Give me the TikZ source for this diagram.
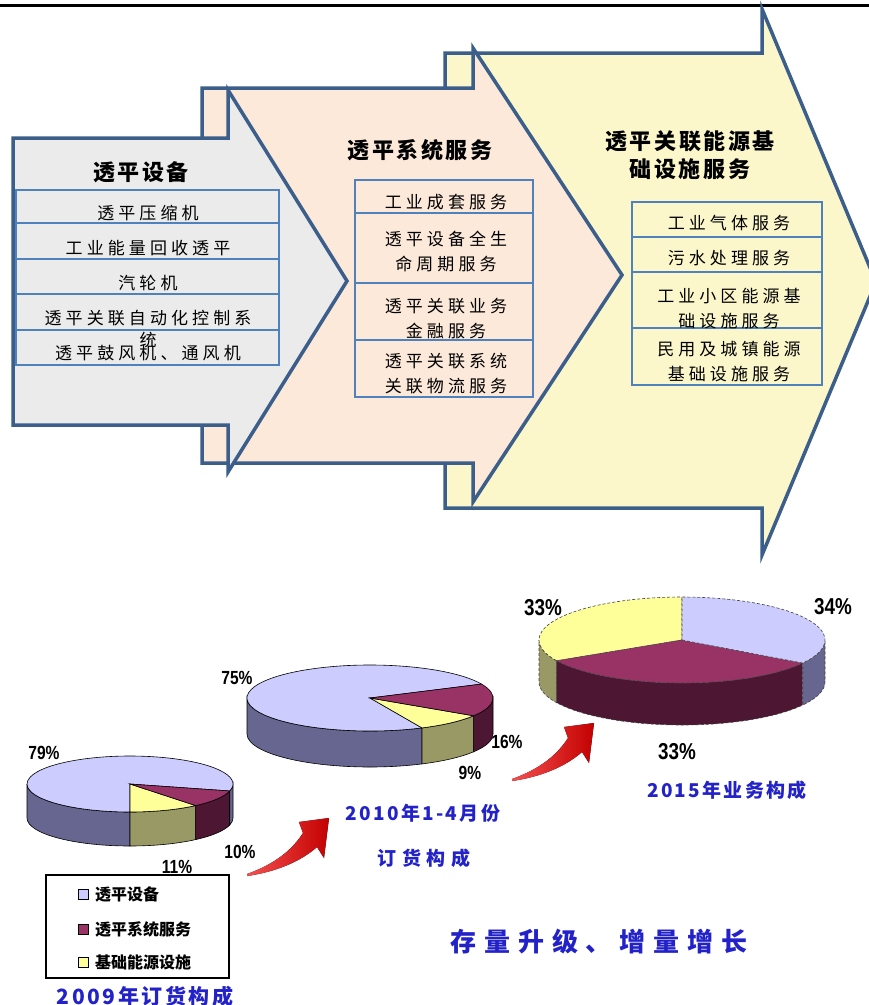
\documentclass[tikz,border=0pt]{standalone}
\usepackage{fontspec}
\newfontfamily\cjk{Noto Sans CJK SC}
\newfontfamily\cjkls[LetterSpace=30]{Noto Sans CJK SC}
\newfontfamily\cjkmd[LetterSpace=24]{Noto Sans CJK SC}
\newfontfamily\cjklt[LetterSpace=12]{Noto Sans CJK SC}
\newfontfamily\pctf[FakeStretch=0.82]{Liberation Sans}
\definecolor{bdr}{RGB}{59,94,138}
\definecolor{rowc}{RGB}{79,129,189}
\definecolor{grayf}{RGB}{235,235,235}
\definecolor{pinkf}{RGB}{252,233,218}
\definecolor{yelf}{RGB}{251,247,203}
\definecolor{pblue}{RGB}{204,204,255}
\definecolor{pblues}{RGB}{102,102,145}
\definecolor{pmar}{RGB}{153,51,102}
\definecolor{pmars}{RGB}{77,22,51}
\definecolor{pyel}{RGB}{255,255,153}
\definecolor{pyels}{RGB}{153,153,102}
\definecolor{capblue}{RGB}{34,34,200}
\definecolor{arrl}{RGB}{245,80,80}
\definecolor{arrd}{RGB}{195,0,0}
\newcommand\PieSide[3]{\filldraw[fill=#3] ({\prx*cos(#1)},{\pry*sin(#1)}) arc[start angle=#1,end angle=#2,x radius=\prx pt,y radius=\pry pt] -- ++(0,-\pdd) arc[start angle=#2,end angle=#1,x radius=\prx pt,y radius=\pry pt] -- cycle;}
\newcommand\PieTop[3]{\filldraw[fill=#3] (0,0) -- ({\prx*cos(#1)},{\pry*sin(#1)}) arc[start angle=#1,end angle=#2,x radius=\prx pt,y radius=\pry pt] -- cycle;}
\begin{document}
\begin{tikzpicture}[x=1pt,y=-1pt,
  arrowbox/.style={draw=bdr, line width=3.5pt, line join=miter},
  rowline/.style={draw=rowc, line width=1.6pt},
  cell/.style={font=\cjkmd\fontsize{17}{25}\selectfont, align=center, inner sep=0pt},
  ttl/.style={font=\cjklt\bfseries\fontsize{22}{28}\selectfont, align=center, inner sep=0pt},
  pct/.style={font=\pctf\bfseries\fontsize{19}{21}\selectfont, inner sep=0pt},
  bigpct/.style={font=\pctf\bfseries\fontsize{23}{25}\selectfont, inner sep=0pt},
  captxt/.style={font=\cjklt\bfseries\fontsize{19}{24}\selectfont, text=capblue, inner sep=0pt},
  capls/.style={font=\cjkls\bfseries\fontsize{19}{24}\selectfont, text=capblue, inner sep=0pt},
  capbig/.style={font=\cjklt\bfseries\fontsize{21}{24}\selectfont, text=capblue, inner sep=0pt},
  slogan/.style={font=\cjkls\bfseries\fontsize{26}{30}\selectfont, text=capblue, inner sep=0pt},
  leg/.style={font=\cjk\bfseries\fontsize{16}{18}\selectfont, anchor=west, inner sep=0pt},
  legsq/.style={draw=black, line width=0.8pt, minimum size=10pt, inner sep=0pt},
  pieline/.style={draw=black, line width=0.6pt},
  redarrow/.style={left color=arrl, right color=arrd, draw=none}]
\useasboundingbox (0,0) rectangle (869,1005);
\clip (0,0) rectangle (869,1005);
% top rule
\draw[line width=3pt] (0,5) -- (869,5);
% arrows (back to front)
\filldraw[arrowbox, fill=yelf] (445,53) -- (762,53) -- (762,9) -- (876,282) -- (762,555) -- (762,508) -- (445,508) -- cycle;
\filldraw[arrowbox, fill=pinkf] (202,88) -- (473,88) -- (473,48) -- (622,275) -- (473,502) -- (473,463) -- (202,463) -- cycle;
\filldraw[arrowbox, fill=grayf] (13,138) -- (228,138) -- (228,90) -- (347,281) -- (228,472) -- (228,425) -- (13,425) -- cycle;
% gray arrow content
\node[ttl] (t1) at (141,172) {透平设备};
\draw[rowline] (16,190) rectangle (279,365);
\foreach \yy in {223,259,294,330} \draw[rowline] (16,\yy) -- (279,\yy);
\node[cell] (g1) at (148,213) {透平压缩机};
\node[cell] (g2) at (148,248) {工业能量回收透平};
\node[cell] (g3) at (148,283) {汽轮机};
\node[cell] (g4) at (148,318) {透平关联自动化控制系};
\node[cell] (g4b) at (148,340) {统};
\node[cell] (g5) at (148,353) {透平鼓风机、通风机};
% pink arrow content
\node[ttl] (t2) at (420,150) {透平系统服务};
\draw[rowline] (355,180) rectangle (533,397);
\foreach \yy in {213,283,340} \draw[rowline] (355,\yy) -- (533,\yy);
\node[cell] (p1) at (446,202) {工业成套服务};
\node[cell] (p2) at (446,251) {透平设备全生\\命周期服务};
\node[cell] (p3) at (446,319) {透平关联业务\\金融服务};
\node[cell] (p4) at (446,374) {透平关联系统\\关联物流服务};
% yellow arrow content
\node[ttl] (t3) at (690,155) {透平关联能源基\\础设施服务};
\draw[rowline] (632,202) rectangle (822,385);
\foreach \yy in {237,272,328} \draw[rowline] (632,\yy) -- (822,\yy);
\node[cell] (y1) at (729,223) {工业气体服务};
\node[cell] (y2) at (729,258) {污水处理服务};
\node[cell] (y3) at (729,309) {工业小区能源基\\础设施服务};
\node[cell] (y4) at (729,362) {民用及城镇能源\\基础设施服务};
% pie 1 (2009)
\begin{scope}[shift={(130,784)}, y=1pt, pieline]
  \def\prx{103}\def\pry{28}\def\pdd{34}
  \PieSide{180}{270}{pblues}
  \PieSide{270}{309.6}{pyels}
  \PieSide{309.6}{345.6}{pmars}
  \PieSide{345.6}{360}{pblues}
  \PieTop{-14.4}{270}{pblue}
  \PieTop{270}{309.6}{pyel}
  \PieTop{309.6}{345.6}{pmar}
\end{scope}
% pie 2 (2010)
\begin{scope}[shift={(370,698)}, y=1pt, pieline]
  \def\prx{123}\def\pry{33}\def\pdd{36}
  \PieSide{180}{295}{pblues}
  \PieSide{295}{327.4}{pyels}
  \PieSide{327.4}{360}{pmars}
  \PieTop{25}{295}{pblue}
  \PieTop{295}{327.4}{pyel}
  \PieTop{327.4}{385}{pmar}
\end{scope}
% pie 3 (2015)
\begin{scope}[shift={(682,640)}, y=1pt, pieline, draw=black!75, dash pattern=on 3pt off 2pt]
  \def\prx{143}\def\pry{43}\def\pdd{42}
  \PieSide{180}{208.8}{pyels}
  \PieSide{208.8}{327.6}{pmars}
  \PieSide{327.6}{360}{pblues}
  \PieTop{90}{208.8}{pyel}
  \PieTop{208.8}{327.6}{pmar}
  \PieTop{327.6}{450}{pblue}
\end{scope}
% percentage labels
\node[pct] (l79) at (44,753) {79\%};
\node[pct] (l10) at (240,852) {10\%};
\node[pct] (l11) at (177,867) {11\%};
\node[pct] (l75) at (237,678) {75\%};
\node[pct] (l16) at (507,742) {16\%};
\node[pct] (l9) at (470,773) {9\%};
\node[bigpct] (l33a) at (543,608) {33\%};
\node[bigpct] (l34) at (833,607) {34\%};
\node[bigpct] (l33b) at (677,752) {33\%};
% captions
\node[captxt] (c2010a) at (423,813) {2010年1-4月份};
\node[capls] (c2010b) at (424,858) {订货构成};
\node[captxt] (c2015) at (727,790) {2015年业务构成};
\node[capbig] (c2009) at (145,996) {2009年订货构成};
\node[slogan] (slog) at (599,942) {存量升级、增量增长};
% legend
\node[draw, line width=1.2pt, minimum width=183pt, minimum height=103pt, inner sep=0pt] (legbox) at (137.5,926.5) {};
\node[legsq, fill=pblue] (sq1) at (83,894) {};
\node[legsq, fill=pmar] (sq2) at (83,929) {};
\node[legsq, fill=pyel] (sq3) at (83,962) {};
\node[leg] (lg1) at (95,894) {透平设备};
\node[leg] (lg2) at (95,929) {透平系统服务};
\node[leg] (lg3) at (95,962) {基础能源设施};
% red curved arrows
\fill[redarrow] (247,874) .. controls (275,864) and (292,850) .. (303,833) -- (299,822) -- (329,818) -- (324,858) -- (317,847) .. controls (300,862) and (275,872) .. (247,876) -- cycle;
\begin{scope}[shift={(265,-95)}]
\fill[redarrow] (247,874) .. controls (275,864) and (292,850) .. (303,833) -- (299,822) -- (329,818) -- (324,858) -- (317,847) .. controls (300,862) and (275,872) .. (247,876) -- cycle;
\end{scope}
\end{tikzpicture}
\end{document}
